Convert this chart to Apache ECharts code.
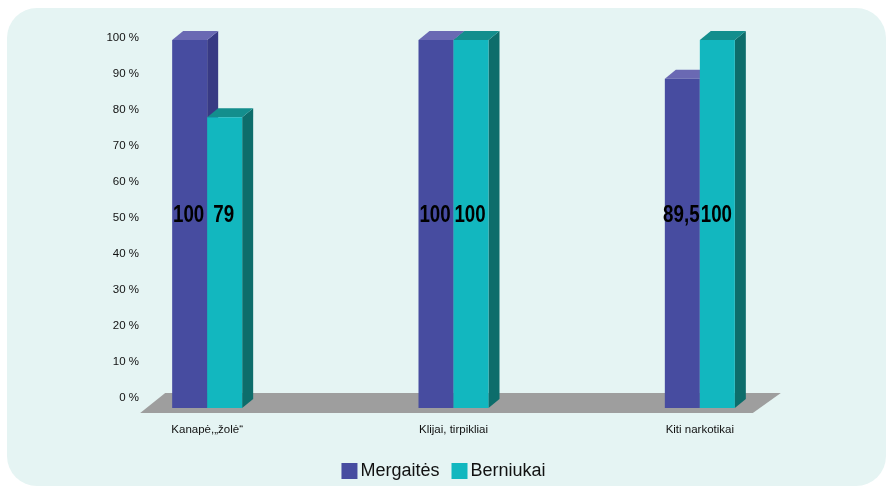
<!DOCTYPE html>
<html>
<head>
<meta charset="utf-8">
<script src="https://cdn.jsdelivr.net/npm/echarts@6/dist/echarts.min.js"></script>
<style>
  html, body { margin: 0; padding: 0; background: #ffffff; }
  #chart { width: 887px; height: 487px; }
</style>
</head>
<body>
<div id="chart"></div>
<script>
// Survey shares by substance type, girls vs boys (percent)
const categories = ['Kanapė,„žolė“', 'Klijai, tirpikliai', 'Kiti narkotikai'];
const mergaites = [100, 100, 89.5];
const berniukai = [79, 100, 100];
const seriesNames = ['Mergaitės', 'Berniukai'];

const FONT = '"Liberation Sans Narrow", "Arial Narrow", "Liberation Sans", sans-serif';

// 3D styling: front / top / side shades per series
const shades = [
  { front: '#474ca0', top: '#6a69b3', side: '#383a84' },
  { front: '#12b7bf', top: '#138e8d', side: '#0d6d6b' }
];
const DEPTH_X = 11, DEPTH_Y = 9;
const BAR_W = 35;

function barRenderer(seriesIdx) {
  return function (params, api) {
    const cat = api.value(0);
    const val = api.value(1);
    const base = api.coord([cat, 0]);
    const topPt = api.coord([cat, val]);
    const mid = api.coord([cat, 50]);
    const cx = base[0] + (seriesIdx === 0 ? -BAR_W / 2 : BAR_W / 2);
    const x0 = cx - BAR_W / 2, x1 = cx + BAR_W / 2;
    const yb = base[1], yt = topPt[1];
    const s = shades[seriesIdx];
    return {
      type: 'group',
      children: [
        { type: 'polygon', shape: { points: [[x1, yt], [x1 + DEPTH_X, yt - DEPTH_Y], [x1 + DEPTH_X, yb - DEPTH_Y], [x1, yb]] },
          style: { fill: s.side } },
        { type: 'polygon', shape: { points: [[x0, yt], [x0 + DEPTH_X, yt - DEPTH_Y], [x1 + DEPTH_X, yt - DEPTH_Y], [x1, yt]] },
          style: { fill: s.top } },
        { type: 'rect', shape: { x: x0, y: yt, width: BAR_W, height: yb - yt },
          style: { fill: s.front } },
        // value label, condensed horizontally
        { type: 'text', z2: 10, x: cx - 1, y: mid[1] - DEPTH_Y, scaleX: 0.78,
          style: { x: 0, y: 0, text: String(val).replace('.', ','),
                   align: 'center', verticalAlign: 'middle',
                   font: 'bold 24px ' + FONT, fill: '#000000' } }
      ]
    };
  };
}

// Grey floor under the bars
function floorRenderer(params, api) {
  const left = api.coord([0, 0]);
  const right = api.coord([categories.length - 1, 0]);
  const yFront = left[1] + 5, yBack = left[1] - 15;
  const xl = left[0] - 67, xr = right[0] + 53;
  return {
    type: 'polygon',
    shape: { points: [[xl, yFront], [xl + 25, yBack], [xr + 28, yBack], [xr, yFront]] },
    style: { fill: '#9e9e9e' }
  };
}

const chart = echarts.init(document.getElementById('chart'), null, { renderer: 'canvas' });

chart.setOption({
  backgroundColor: '#ffffff',
  animation: false,
  graphic: [{
    type: 'rect', z: -10, silent: true,
    shape: { x: 7, y: 8, width: 879, height: 478, r: 30 },
    style: { fill: '#e5f4f3' }
  }],
  legend: {
    data: seriesNames,
    top: 457,
    left: 'center',
    icon: 'rect',
    itemWidth: 16,
    itemHeight: 16,
    itemGap: 12,
    textStyle: { fontFamily: FONT, fontSize: 18, color: '#111111', padding: [0, 0, 0, -2] }
  },
  grid: [
    { left: 147, width: 10, top: 38, bottom: 89 },
    { left: 84, right: 64, top: 40, bottom: 79 }
  ],
  xAxis: [
    { gridIndex: 0, type: 'category', data: [''], show: false },
    { gridIndex: 1, type: 'category', data: categories,
      axisLine: { show: false }, axisTick: { show: false },
      axisLabel: { margin: 16, fontFamily: FONT, fontSize: 11.5, color: '#111111' } }
  ],
  yAxis: [
    { gridIndex: 0, type: 'value', min: 0, max: 100, interval: 10,
      axisLine: { show: false }, axisTick: { show: false }, splitLine: { show: false },
      axisLabel: { formatter: '{value} %', margin: 8, fontFamily: FONT, fontSize: 11.5, color: '#111111' } },
    { gridIndex: 1, type: 'value', min: 0, max: 100, interval: 10, show: false,
      splitLine: { show: false } }
  ],
  series: [
    { type: 'custom', name: 'floor', xAxisIndex: 1, yAxisIndex: 1, z: 1,
      renderItem: floorRenderer, data: [[0, 0]], silent: true },
    { type: 'custom', name: seriesNames[0], xAxisIndex: 1, yAxisIndex: 1, z: 2,
      itemStyle: { color: shades[0].front },
      renderItem: barRenderer(0),
      data: mergaites.map((v, i) => [i, v]) },
    { type: 'custom', name: seriesNames[1], xAxisIndex: 1, yAxisIndex: 1, z: 3,
      itemStyle: { color: shades[1].front },
      renderItem: barRenderer(1),
      data: berniukai.map((v, i) => [i, v]) }
  ]
});
</script>
</body>
</html>
